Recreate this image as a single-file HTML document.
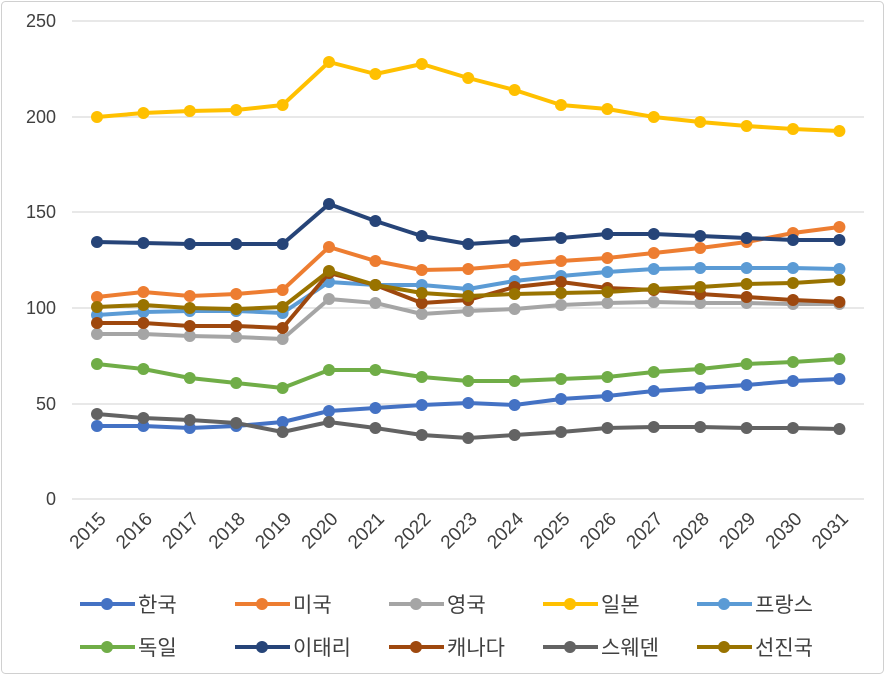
<!DOCTYPE html>
<html><head><meta charset="utf-8"><style>
html,body{margin:0;padding:0;background:#fff;}
svg{display:block;font-family:"Liberation Sans","Noto Sans CJK KR",sans-serif;}
</style></head><body>
<svg width="885" height="675" viewBox="0 0 885 675">
<defs>
<marker id="m0" markerUnits="userSpaceOnUse" markerWidth="14" markerHeight="14" refX="7" refY="7"><circle cx="7" cy="7" r="6" fill="#4472C4"/></marker>
<marker id="m1" markerUnits="userSpaceOnUse" markerWidth="14" markerHeight="14" refX="7" refY="7"><circle cx="7" cy="7" r="6" fill="#ED7D31"/></marker>
<marker id="m2" markerUnits="userSpaceOnUse" markerWidth="14" markerHeight="14" refX="7" refY="7"><circle cx="7" cy="7" r="6" fill="#A5A5A5"/></marker>
<marker id="m3" markerUnits="userSpaceOnUse" markerWidth="14" markerHeight="14" refX="7" refY="7"><circle cx="7" cy="7" r="6" fill="#FFC000"/></marker>
<marker id="m4" markerUnits="userSpaceOnUse" markerWidth="14" markerHeight="14" refX="7" refY="7"><circle cx="7" cy="7" r="6" fill="#5B9BD5"/></marker>
<marker id="m5" markerUnits="userSpaceOnUse" markerWidth="14" markerHeight="14" refX="7" refY="7"><circle cx="7" cy="7" r="6" fill="#70AD47"/></marker>
<marker id="m6" markerUnits="userSpaceOnUse" markerWidth="14" markerHeight="14" refX="7" refY="7"><circle cx="7" cy="7" r="6" fill="#264478"/></marker>
<marker id="m7" markerUnits="userSpaceOnUse" markerWidth="14" markerHeight="14" refX="7" refY="7"><circle cx="7" cy="7" r="6" fill="#9E480E"/></marker>
<marker id="m8" markerUnits="userSpaceOnUse" markerWidth="14" markerHeight="14" refX="7" refY="7"><circle cx="7" cy="7" r="6" fill="#636363"/></marker>
<marker id="m9" markerUnits="userSpaceOnUse" markerWidth="14" markerHeight="14" refX="7" refY="7"><circle cx="7" cy="7" r="6" fill="#997300"/></marker>
</defs>
<rect x="1.5" y="1.5" width="882" height="672" rx="4" fill="#fff" stroke="#d0d0d0"/>
<g stroke="#d9d9d9" stroke-width="1.3">
<line x1="72" x2="864" y1="21" y2="21"/><line x1="72" x2="864" y1="117" y2="117"/>
<line x1="72" x2="864" y1="212" y2="212"/><line x1="72" x2="864" y1="308" y2="308"/>
<line x1="72" x2="864" y1="404" y2="404"/><line x1="72" x2="864" y1="499" y2="499"/>
</g>
<g font-size="18" fill="#404040" text-anchor="end">
<text x="56" y="27">250</text><text x="56" y="123">200</text><text x="56" y="218">150</text>
<text x="56" y="314">100</text><text x="56" y="410">50</text><text x="56" y="505">0</text>
</g>
<g font-size="19" fill="#404040" text-anchor="end">
<text transform="translate(107,520) rotate(-45)">2015</text>
<text transform="translate(153.4,520) rotate(-45)">2016</text>
<text transform="translate(199.8,520) rotate(-45)">2017</text>
<text transform="translate(246.2,520) rotate(-45)">2018</text>
<text transform="translate(292.6,520) rotate(-45)">2019</text>
<text transform="translate(339,520) rotate(-45)">2020</text>
<text transform="translate(385.4,520) rotate(-45)">2021</text>
<text transform="translate(431.8,520) rotate(-45)">2022</text>
<text transform="translate(478.2,520) rotate(-45)">2023</text>
<text transform="translate(524.6,520) rotate(-45)">2024</text>
<text transform="translate(571,520) rotate(-45)">2025</text>
<text transform="translate(617.4,520) rotate(-45)">2026</text>
<text transform="translate(663.8,520) rotate(-45)">2027</text>
<text transform="translate(710.2,520) rotate(-45)">2028</text>
<text transform="translate(756.6,520) rotate(-45)">2029</text>
<text transform="translate(803,520) rotate(-45)">2030</text>
<text transform="translate(849.4,520) rotate(-45)">2031</text>
</g>
<g fill="none" stroke-width="4" stroke-linejoin="round">
<polyline stroke="#4472C4" marker-start="url(#m0)" marker-mid="url(#m0)" marker-end="url(#m0)" points="97,426 143.4,426 189.8,428 236.2,426 282.6,422 329,411 375.4,408 421.8,405 468.2,403 514.6,405 561,399 607.4,396 653.8,391 700.2,388 746.6,385 793,381 839.4,379"/>
<polyline stroke="#ED7D31" marker-start="url(#m1)" marker-mid="url(#m1)" marker-end="url(#m1)" points="97,297 143.4,292 189.8,296 236.2,294 282.6,290 329,247 375.4,261 421.8,270 468.2,269 514.6,265 561,261 607.4,258 653.8,253 700.2,248 746.6,242 793,233 839.4,227"/>
<polyline stroke="#A5A5A5" marker-start="url(#m2)" marker-mid="url(#m2)" marker-end="url(#m2)" points="97,334 143.4,334 189.8,336 236.2,337 282.6,339 329,299 375.4,303 421.8,314 468.2,311 514.6,309 561,305 607.4,303 653.8,302 700.2,303 746.6,303 793,304 839.4,304"/>
<polyline stroke="#FFC000" marker-start="url(#m3)" marker-mid="url(#m3)" marker-end="url(#m3)" points="97,117 143.4,113 189.8,111 236.2,110 282.6,105 329,62 375.4,74 421.8,64 468.2,78 514.6,90 561,105 607.4,109 653.8,117 700.2,122 746.6,126 793,129 839.4,131"/>
<polyline stroke="#5B9BD5" marker-start="url(#m4)" marker-mid="url(#m4)" marker-end="url(#m4)" points="97,315 143.4,312 189.8,311 236.2,311 282.6,313 329,282 375.4,285 421.8,285 468.2,289 514.6,281 561,276 607.4,272 653.8,269 700.2,268 746.6,268 793,268 839.4,269"/>
<polyline stroke="#70AD47" marker-start="url(#m5)" marker-mid="url(#m5)" marker-end="url(#m5)" points="97,364 143.4,369 189.8,378 236.2,383 282.6,388 329,370 375.4,370 421.8,377 468.2,381 514.6,381 561,379 607.4,377 653.8,372 700.2,369 746.6,364 793,362 839.4,359"/>
<polyline stroke="#264478" marker-start="url(#m6)" marker-mid="url(#m6)" marker-end="url(#m6)" points="97,242 143.4,243 189.8,244 236.2,244 282.6,244 329,204 375.4,221 421.8,236 468.2,244 514.6,241 561,238 607.4,234 653.8,234 700.2,236 746.6,238 793,240 839.4,240"/>
<polyline stroke="#9E480E" marker-start="url(#m7)" marker-mid="url(#m7)" marker-end="url(#m7)" points="97,323 143.4,323 189.8,326 236.2,326 282.6,328 329,273 375.4,285 421.8,303 468.2,300 514.6,287 561,282 607.4,288 653.8,290 700.2,294 746.6,297 793,300 839.4,302"/>
<polyline stroke="#636363" marker-start="url(#m8)" marker-mid="url(#m8)" marker-end="url(#m8)" points="97,414 143.4,418 189.8,420 236.2,423 282.6,432 329,422 375.4,428 421.8,435 468.2,438 514.6,435 561,432 607.4,428 653.8,427 700.2,427 746.6,428 793,428 839.4,429"/>
<polyline stroke="#997300" marker-start="url(#m9)" marker-mid="url(#m9)" marker-end="url(#m9)" points="97,307 143.4,305 189.8,308 236.2,309 282.6,307 329,271 375.4,285 421.8,293 468.2,296 514.6,294 561,293 607.4,292 653.8,289 700.2,287 746.6,284 793,283 839.4,280"/>
</g>
<g font-size="21" fill="#404040" stroke-width="4">
<line x1="80" x2="135" y1="604" y2="604" stroke="#4472C4"/><circle cx="107" cy="604" r="6" fill="#4472C4"/><text x="138" y="612">한국</text>
<line x1="235" x2="290" y1="604" y2="604" stroke="#ED7D31"/><circle cx="262" cy="604" r="6" fill="#ED7D31"/><text x="293" y="612">미국</text>
<line x1="389" x2="444" y1="604" y2="604" stroke="#A5A5A5"/><circle cx="416" cy="604" r="6" fill="#A5A5A5"/><text x="447" y="612">영국</text>
<line x1="543" x2="598" y1="604" y2="604" stroke="#FFC000"/><circle cx="570" cy="604" r="6" fill="#FFC000"/><text x="601" y="612">일본</text>
<line x1="697" x2="752" y1="604" y2="604" stroke="#5B9BD5"/><circle cx="724" cy="604" r="6" fill="#5B9BD5"/><text x="755" y="612">프랑스</text>
<line x1="80" x2="135" y1="647" y2="647" stroke="#70AD47"/><circle cx="107" cy="647" r="6" fill="#70AD47"/><text x="138" y="655">독일</text>
<line x1="235" x2="290" y1="647" y2="647" stroke="#264478"/><circle cx="262" cy="647" r="6" fill="#264478"/><text x="293" y="655">이태리</text>
<line x1="389" x2="444" y1="647" y2="647" stroke="#9E480E"/><circle cx="416" cy="647" r="6" fill="#9E480E"/><text x="447" y="655">캐나다</text>
<line x1="543" x2="598" y1="647" y2="647" stroke="#636363"/><circle cx="570" cy="647" r="6" fill="#636363"/><text x="601" y="655">스웨덴</text>
<line x1="697" x2="752" y1="647" y2="647" stroke="#997300"/><circle cx="724" cy="647" r="6" fill="#997300"/><text x="755" y="655">선진국</text>
</g>
</svg>
</body></html>
